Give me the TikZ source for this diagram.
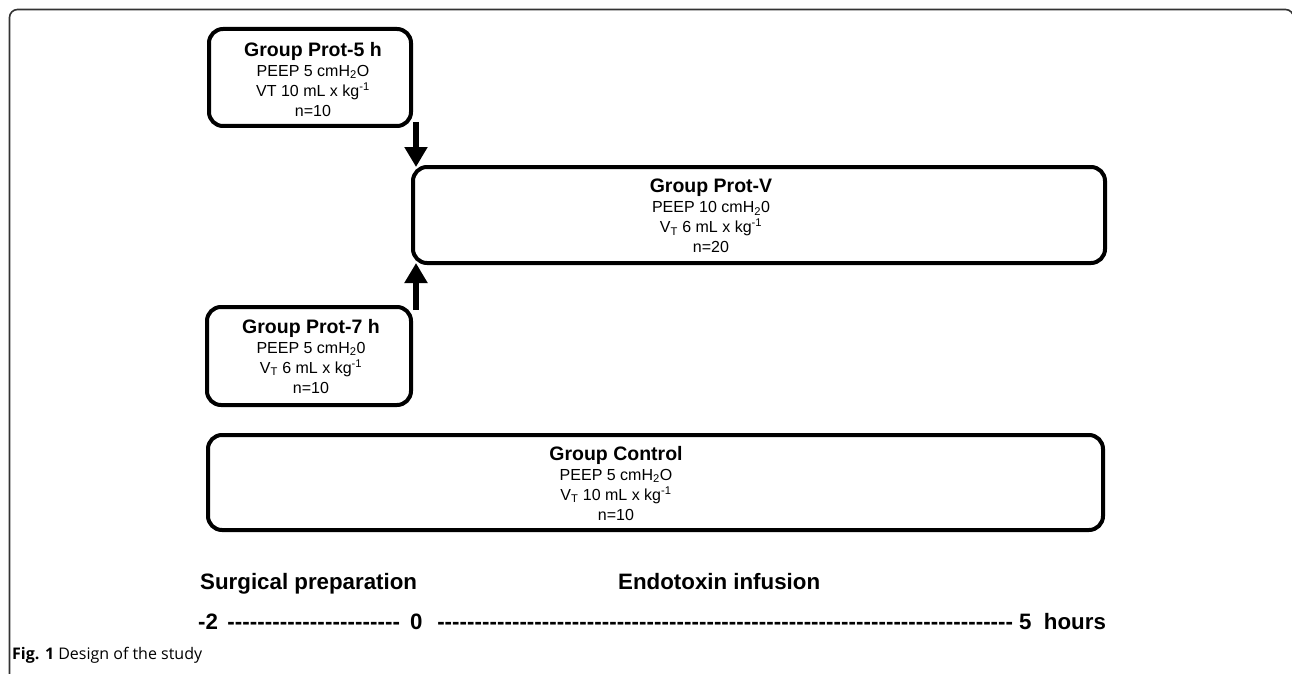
\documentclass[tikz,border=0pt]{standalone}
\usepackage{fontspec}
\setmainfont{Liberation Sans}
\newfontfamily\capfont{Open Sans}
\usetikzlibrary{arrows.meta}
\begin{document}
\begin{tikzpicture}[x=1pt,y=-1pt,
  box/.style={draw=black, line width=4pt, rounded corners=14pt, inner sep=0pt, minimum width=#1},
  txt/.style={anchor=north, inner sep=0pt, align=center, font=\fontsize{16}{20}\selectfont},
  ttl/.style={font=\bfseries\fontsize{22.3}{26}\selectfont, anchor=base west, inner sep=0pt},
  bigarrow/.style={line width=6.5pt, -{Triangle[width=22pt,length=20pt]}},
  frame/.style={draw=black!80, line width=1.6pt, rounded corners=8pt}]
\useasboundingbox (0,0) rectangle (1292,674);
\fill[white] (0,0) rectangle (1292,674);
\draw[frame] (9.5,680) -- (9.5,9.5) -- (1293.5,9.5) -- (1293.5,680);
\newcommand{\gt}[1]{{\bfseries\fontsize{19.5}{20}\selectfont #1}}
% boxes
\node[box=202pt, minimum height=97pt] (p5) at (310,77.5) {};
\node[box=692pt, minimum height=96pt] (pv) at (759,215) {};
\node[box=204pt, minimum height=98pt] (p7) at (309,356) {};
\node[box=895pt, minimum height=95pt] (ct) at (655.5,482.5) {};
% texts
\node[txt] (p5t) at (313,42) {\gt{Group Prot-5 h}\\PEEP 5 cmH\textsubscript{2}O\\VT 10 mL x kg\textsuperscript{-1}\\n=10};
\node[txt] (pvt) at (711,179) {\gt{Group Prot-V}\\PEEP 10 cmH\textsubscript{2}0\\V\textsubscript{T} 6 mL x kg\textsuperscript{-1}\\n=20};
\node[txt] (p7t) at (311,319) {\gt{Group Prot-7 h}\\PEEP 5 cmH\textsubscript{2}0\\V\textsubscript{T} 6 mL x kg\textsuperscript{-1}\\n=10};
\node[txt] (ctt) at (616,446) {\gt{Group Control}\\PEEP 5 cmH\textsubscript{2}O\\V\textsubscript{T} 10 mL x kg\textsuperscript{-1}\\n=10};
% arrows
\coordinate (s1) at (416,122);
\coordinate (s2) at (416,310);
\draw[bigarrow] (s1) -- ([yshift=-2pt]s1 |- pv.north);
\draw[bigarrow] (s2) -- ([yshift=2pt]s2 |- pv.south);
% bottom
\node[ttl] (sp) at (200,589) {Surgical preparation};
\node[ttl] (ei) at (618,589) {Endotoxin infusion};
\node[ttl] (m2) at (198,629) {-2};
\node[ttl] (d1) at (227,629) {\hbox to 173pt{\xleaders\hbox{-}\hfill}};
\node[ttl] (z0) at (410,629) {0};
\node[ttl] (d2) at (437,629) {\hbox to 576pt{\xleaders\hbox{-}\hfill}};
\node[ttl] (fh) at (1019,629) {5\ \ hours};
\node[anchor=base west, inner sep=0pt, font=\capfont\fontsize{16}{18}\selectfont] (cap) at (12,659) {\textbf{Fig. 1} Design of the study};
\end{tikzpicture}
\end{document}
